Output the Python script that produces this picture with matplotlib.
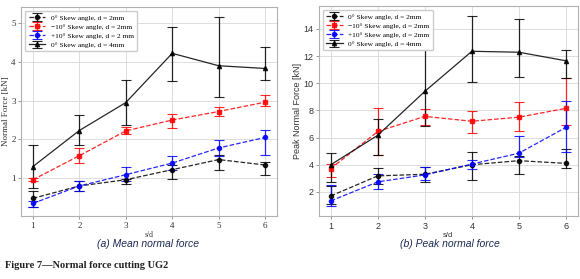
import matplotlib
matplotlib.use("Agg")
import matplotlib.pyplot as plt
import numpy as np

x = [1, 2, 3, 4, 5, 6]
labels_a = ["0° Skew angle, d = 2mm", "\u221210° Skew angle, d = 2mm",
            "+10° Skew angle, d = 2 mm", "0° Skew angle, d = 4mm"]
labels_b = ["0° Skew angle, d = 2mm", "\u221210° Skew angle, d = 2mm",
            "+10° Skew angle, d = 2mm", "0° Skew angle, d = 4mm"]

# (a) mean normal force [kN]: value, lower end, upper end of error bar
mean_0_2 = [0.48, 0.80, 0.96, 1.22, 1.48, 1.34]
mean_0_2_lo = [0.27, 0.68, 0.86, 0.98, 1.20, 1.07]
mean_0_2_hi = [0.67, 0.93, 0.99, 1.33, 1.60, 1.42]
mean_m10 = [0.96, 1.58, 2.22, 2.50, 2.72, 2.96]
mean_m10_lo = [0.92, 1.39, 2.13, 2.30, 2.61, 2.85]
mean_m10_hi = [1.00, 1.79, 2.33, 2.65, 2.83, 3.14]
mean_p10 = [0.35, 0.80, 1.09, 1.39, 1.78, 2.05]
mean_p10_lo = [0.27, 0.68, 0.93, 1.20, 1.57, 1.60]
mean_p10_hi = [0.42, 0.93, 1.28, 1.56, 1.98, 2.25]
mean_0_4 = [1.30, 2.23, 2.95, 4.22, 3.90, 3.83]
mean_0_4_lo = [0.74, 1.85, 2.38, 3.50, 3.10, 3.53]
mean_0_4_hi = [1.85, 2.62, 3.52, 4.90, 5.17, 4.38]

# (b) peak normal force [kN]
peak_0_2 = [1.70, 3.18, 3.30, 4.00, 4.30, 4.10]
peak_0_2_lo = [1.10, 2.60, 2.70, 2.85, 3.35, 3.75]
peak_0_2_hi = [2.45, 3.77, 3.80, 4.95, 4.65, 5.15]
peak_m10 = [3.72, 6.45, 7.56, 7.20, 7.50, 8.15]
peak_m10_lo = [3.10, 4.70, 6.95, 6.30, 6.50, 6.95]
peak_m10_hi = [4.05, 8.20, 8.10, 7.95, 8.65, 10.35]
peak_p10 = [1.34, 2.74, 3.25, 4.05, 4.85, 6.75]
peak_p10_lo = [0.93, 2.20, 2.90, 3.70, 4.60, 4.95]
peak_p10_hi = [2.49, 3.35, 3.80, 4.35, 6.10, 8.70]
peak_0_4 = [4.00, 6.17, 9.40, 12.35, 12.28, 11.65]
peak_0_4_lo = [2.76, 4.75, 6.86, 10.10, 10.45, 10.35]
peak_0_4_hi = [4.86, 7.40, 12.97, 14.98, 14.70, 12.45]

styles = [
    dict(color="black", ls="--", marker="o"),
    dict(color="red", ls="--", marker="s"),
    dict(color="blue", ls="--", marker="o"),
    dict(color="black", ls="-", marker="^"),
]


def draw(ax, series, labels, tickfont):
    for (v, lo, hi), st, lab in zip(series, styles, labels):
        v = np.array(v)
        yerr = [v - np.array(lo), np.array(hi) - v]
        ax.errorbar(x, v, yerr=yerr, color=st["color"], ls=st["ls"],
                    marker=st["marker"], ms=3, lw=0.9, elinewidth=0.9,
                    capsize=3.5, capthick=0.8, ecolor=st["color"],
                    label=lab, alpha=0.85)
    ax.grid(True, color="#dddddd", lw=0.7)
    ax.set_axisbelow(True)
    for s in ax.spines.values():
        s.set_color("#b0b0b0")
    ax.tick_params(labelsize=6.5, length=2.5, width=0.6, color="#888888",
                   labelcolor="#333333", pad=1.5)
    for t in ax.get_xticklabels() + ax.get_yticklabels():
        t.set_family(tickfont)
    ax.set_xticks(x)
    ax.legend(loc="upper left", prop={"family": "Liberation Serif", "size": 5.3},
              frameon=True, edgecolor="#cccccc", framealpha=1,
              handlelength=2.2, borderpad=0.5, labelspacing=0.4)


fig = plt.figure(figsize=(5.8, 2.79), dpi=100)
ax1 = fig.add_axes([21.3 / 580, 1 - 216 / 279, 255.4 / 580, 209 / 279])
ax2 = fig.add_axes([319 / 580, 1 - 216 / 279, 258.7 / 580, 210 / 279])

draw(ax1, [(mean_0_2, mean_0_2_lo, mean_0_2_hi),
           (mean_m10, mean_m10_lo, mean_m10_hi),
           (mean_p10, mean_p10_lo, mean_p10_hi),
           (mean_0_4, mean_0_4_lo, mean_0_4_hi)], labels_a, "Liberation Serif")
draw(ax2, [(peak_0_2, peak_0_2_lo, peak_0_2_hi),
           (peak_m10, peak_m10_lo, peak_m10_hi),
           (peak_p10, peak_p10_lo, peak_p10_hi),
           (peak_0_4, peak_0_4_lo, peak_0_4_hi)], labels_b, "Liberation Sans")

ax1.set_yticks([1, 2, 3, 4, 5])
ax2.set_yticks([2, 4, 6, 8, 10, 12, 14])
ax1.set_xlabel("s/d", fontsize=5.5, family="Liberation Serif", labelpad=1, color="#333333")
ax1.set_ylabel("Normal Force [kN]", fontsize=6.5, family="Liberation Serif", labelpad=1, color="#333333")
ax2.set_xlabel("s/d", fontsize=5.5, family="Liberation Sans", labelpad=1, color="#333333")
ax2.set_ylabel("Peak Normal Force [kN]", fontsize=6.5, family="Liberation Sans", labelpad=1, color="#333333")

fig.text(148 / 580, 1 - 244 / 279, "(a) Mean normal force", ha="center", va="center",
         fontsize=7.5, style="italic", family="Liberation Sans", color="#1f2a55")
fig.text(450 / 580, 1 - 244 / 279, "(b) Peak normal force", ha="center", va="center",
         fontsize=7.5, style="italic", family="Liberation Sans", color="#1f2a55")
fig.text(5 / 580, 1 - 265 / 279, "Figure 7\u2014Normal force cutting UG2", ha="left", va="center",
         fontsize=7.5, weight="bold", family="Liberation Serif", color="#222222")

fig.savefig("out.png", dpi=100)
